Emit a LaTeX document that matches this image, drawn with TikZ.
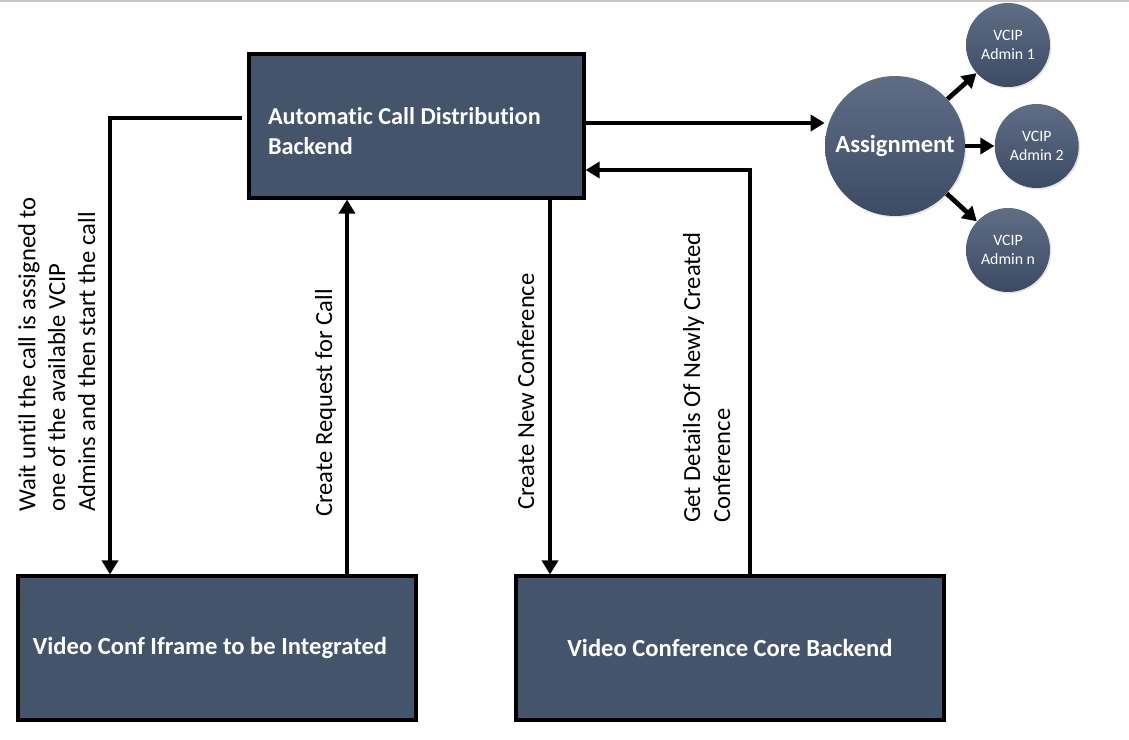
\documentclass[tikz,border=0pt]{standalone}
\usepackage{fontspec}
\setmainfont{Carlito}[Ligatures=NoCommon]
\usetikzlibrary{arrows.meta, positioning, shadows}

\definecolor{slate}{HTML}{44546A}
\definecolor{slatetop}{HTML}{5F6E85}
\definecolor{slatebot}{HTML}{3C4B64}

\begin{document}
\begin{tikzpicture}[
    procbox/.style={draw, line width=1.8pt, fill=slate, text=white, minimum height=2.88cm,
        drop shadow={opacity=0.3, shadow xshift=0.4mm, shadow yshift=-0.4mm}},
    hubnode/.style={circle, top color=slatetop, bottom color=slatebot, text=white,
        drop shadow={opacity=0.2, shadow xshift=0.3mm, shadow yshift=-0.3mm}},
    adminnode/.style={hubnode, minimum size=1.68cm, inner sep=0pt, align=center,
        font=\fontsize{9}{10.5}\selectfont},
    flow/.style={-{Triangle[length=2.8mm, width=3.2mm]}, line width=2.7pt},
    flowlabel/.style={rotate=90, align=left, anchor=base west, inner sep=0pt,
        font=\fontsize{14}{17}\selectfont},
    node distance=0cm
]
\useasboundingbox (0,0) rectangle (22.58,-14.78);
\draw[gray!45, line width=0.8pt] (0,-0.02) -- (22.58,-0.02);

% Main boxes
\node[procbox, minimum width=6.7cm, inner xsep=0.38cm, text width=5.94cm, align=flush left,
      font=\fontsize{13.8}{17}\selectfont\bfseries] (acd) at (8.33,-2.52)
      {\rule{0pt}{0.56cm}Automatic Call Distribution\\Backend};
\node[procbox, minimum width=7.96cm, font=\fontsize{14}{17}\selectfont\bfseries] (iframe) at (4.34,-12.96)
      {Video Conf Iframe to be Integrated\hspace*{0.28cm}};
\node[procbox, minimum width=8.56cm, font=\fontsize{14}{17}\selectfont\bfseries] (core) at (14.6,-12.96)
      {Video Conference Core Backend};

% Assignment and admins
\node[hubnode, minimum size=2.8cm, inner sep=0pt, font=\fontsize{14}{16}\selectfont\bfseries] (assign) at (17.9,-2.92) {Assignment};
\node[adminnode] (admin1) at (20.16,-0.9) {VCIP\\Admin 1};
\node[adminnode, right=5.8mm of assign] (admin2) {VCIP\\Admin 2};
\node[adminnode] (adminn) at (20.16,-5.0) {VCIP\\Admin n};

\draw[flow] ([yshift=0.6mm]acd.east) -- ([yshift=0.6mm]acd.east -| assign.west);
\foreach \a in {admin1, admin2, adminn} {
    \draw[flow] (assign) -- (\a);
}

% Connectors between boxes
\draw[flow] ([xshift=-1mm, yshift=1.6mm]acd.west) -| ([xshift=-2.14cm]iframe.north);
\draw[flow] ([xshift=2.6cm]iframe.north) -- ([xshift=2.6cm]iframe.north |- acd.south);
\draw[flow] ([xshift=2.67cm]acd.south) -- ([xshift=2.67cm]acd.south |- core.north);
\draw[flow] ([xshift=4mm]core.north) |- ([yshift=-8.8mm]acd.east);

% Labels on connectors
\node[flowlabel] (waitlabel) at (1.9,-10.24)
      {Wait until the call is assigned to\\one of the available VCIP\\Admins and then start the call};
\node[flowlabel] (requestlabel) at (6.64,-10.34) {Create Request for Call};
\node[flowlabel] (createlabel) at (10.68,-10.2) {Create New Conference};
\node[flowlabel] (detailslabel) at (14.6,-10.46) {Get Details Of Newly Created\\Conference};

\end{tikzpicture}
\end{document}
